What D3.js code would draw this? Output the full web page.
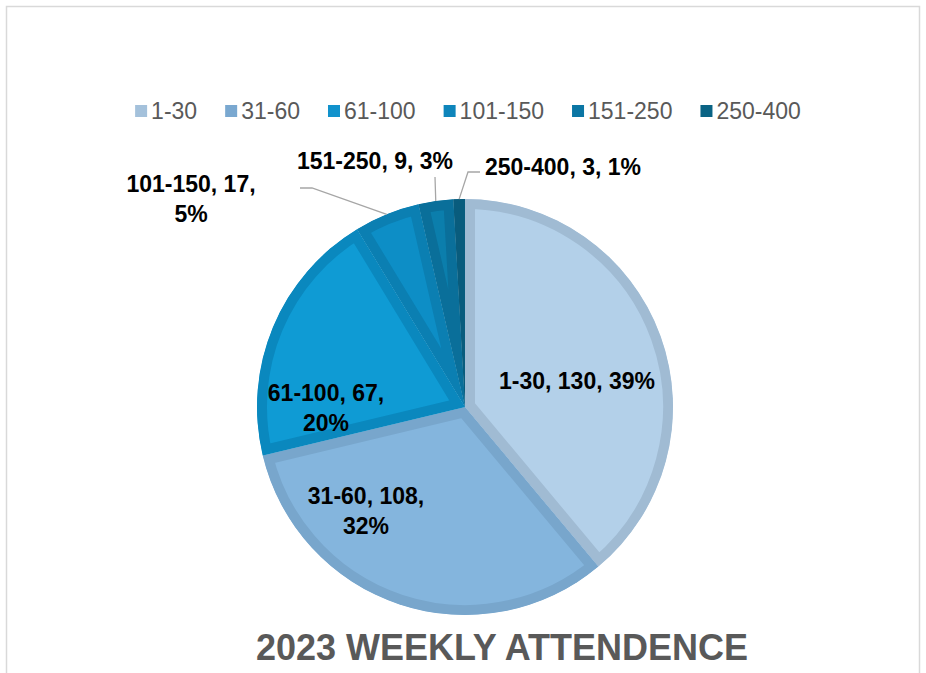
<!DOCTYPE html>
<html><head><meta charset="utf-8">
<script src="https://cdn.jsdelivr.net/npm/d3@7"></script>
<style>body{margin:0;background:#fff;}svg{display:block;}</style>
</head><body>
<svg id="c" width="926" height="673"></svg>
<script>
const categories = ["1-30","31-60","61-100","101-150","151-250","250-400"];
const values = [130,108,67,17,9,3];
const percents = ["39%","32%","20%","5%","3%","1%"];
const innerColors = ["#b3d0e9","#84b5dd","#0f9bd4","#0d8ec6","#0b7eac","#0a6a8e"];
const bandColors = ["#a0bbd3","#78a6cc","#0a88be","#0b7fb2","#0a6f9a","#095c7d"];
const legendColors = ["#a4c1db","#7aa8d0","#1192cc","#0e85bb","#0b76a4","#0a6384"];
const title = "2023 WEEKLY ATTENDENCE";

const svg = d3.select("#c");
svg.append("rect").attr("x",6.5).attr("y",6.5).attr("width",913).attr("height",720)
  .attr("fill","#fff").attr("stroke","#d9d9d9").attr("stroke-width",1.5);

const cx = 465, cy = 407, R = 208;
const data = categories.map((c,i)=>({cat:c,val:values[i],pct:percents[i],i}));
const pie = d3.pie().value(d=>d.val).sort(null);
const arcs = pie(data);
const arc = d3.arc().innerRadius(0).outerRadius(R);
const g = svg.append("g").attr("transform",`translate(${cx},${cy})`);
const defs = svg.append("defs");
arcs.forEach((a,k)=>{
  defs.append("clipPath").attr("id","clip"+k).append("path").attr("d",arc(a));
  g.append("path").attr("d",arc(a)).attr("fill",innerColors[k])
    .attr("stroke",bandColors[k]).attr("stroke-width",20)
    .attr("clip-path",`url(#clip${k})`);
});

// leader lines
const leaders = {3:[[300,188],[312,188]],4:[[435,177]],5:[[480,172],[468,172]]};
Object.keys(leaders).forEach(k=>{
  const a = arcs[k]; const m=(a.startAngle+a.endAngle)/2;
  const pts = leaders[k].concat([[cx+R*Math.sin(m), cy-R*Math.cos(m)]]);
  svg.append("path").attr("d",d3.line()(pts)).attr("fill","none")
    .attr("stroke","#a6a6a6").attr("stroke-width",1.3);
});

// labels
const labelPos = [
  {lines:[categories[0]+", "+values[0]+", "+percents[0]],x:577,y:389},
  {lines:[categories[1]+", "+values[1]+",",percents[1]],x:366,y:504},
  {lines:[categories[2]+", "+values[2]+",",percents[2]],x:326,y:401},
  {lines:[categories[3]+", "+values[3]+",",percents[3]],x:191,y:192},
  {lines:[categories[4]+", "+values[4]+", "+percents[4]],x:375,y:169},
  {lines:[categories[5]+", "+values[5]+", "+percents[5]],x:563,y:175}
];
labelPos.forEach((L,k)=>{
  const t = svg.append("text").attr("x",L.x).attr("y",L.y).attr("text-anchor","middle")
    .attr("font-family","Liberation Sans, Arial, sans-serif").attr("font-weight","bold")
    .attr("font-size",23).attr("fill","#000");
  L.lines.forEach((s,j)=>t.append("tspan").attr("x",L.x).attr("dy",j?30:0).text(s));
});

// legend
const lg = svg.append("g");
let x = 0;
categories.forEach((c,i)=>{
  const it = lg.append("g").attr("transform",`translate(${x},0)`);
  it.append("rect").attr("x",0).attr("y",-14).attr("width",12).attr("height",12).attr("fill",legendColors[i]);
  const t = it.append("text").attr("x",16).attr("y",0).attr("font-family","Liberation Sans, Arial, sans-serif")
    .attr("font-size",23).attr("fill","#595959").text(c);
  x += 16 + t.node().getComputedTextLength() + 28;
});
const total = x - 28;
lg.attr("transform",`translate(${468 - total/2},119)`);

svg.append("text").attr("x",502).attr("y",660).attr("text-anchor","middle")
  .attr("font-family","Liberation Sans, Arial, sans-serif").attr("font-weight","bold")
  .attr("font-size",36).attr("fill","#595959").text(title);
</script>
</body></html>
